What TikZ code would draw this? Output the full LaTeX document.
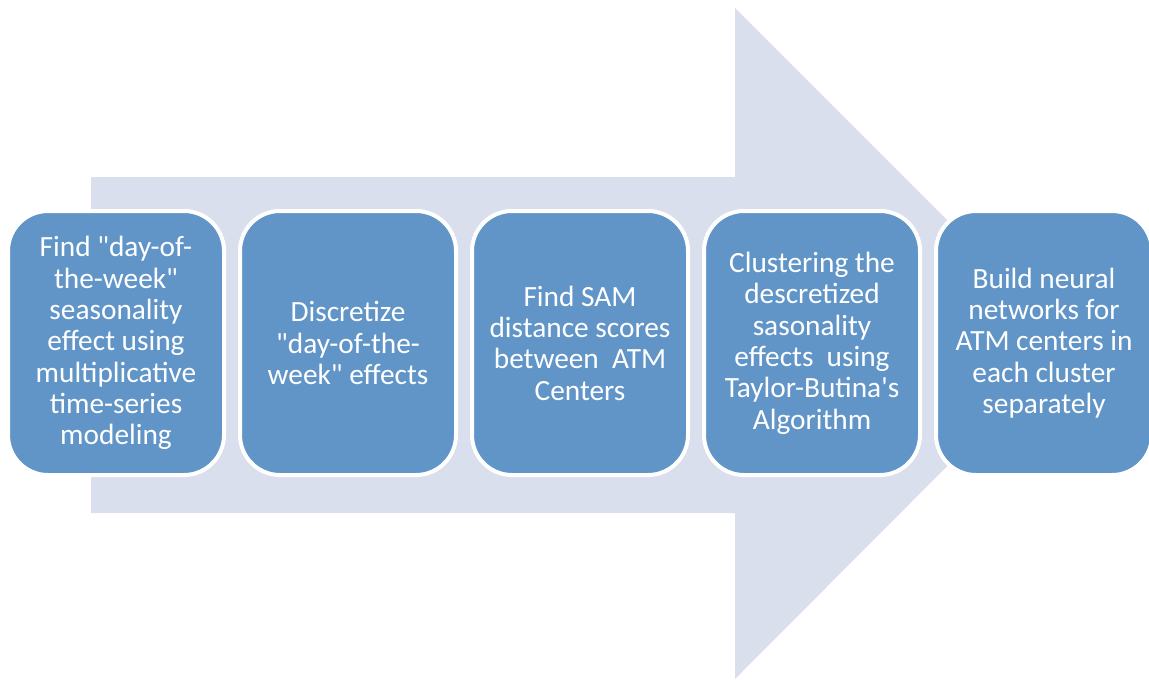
\documentclass[tikz,border=0pt]{standalone}
\usepackage{fontspec}
\setmainfont{Carlito}[Ligatures=TeXOff]
\definecolor{arrowfill}{HTML}{D9DFEC}
\definecolor{boxfill}{HTML}{6195C8}
\tikzset{
  stepbox/.style={draw=white, line width=3pt, fill=boxfill, rounded corners=30pt,
    minimum width=162pt, minimum height=198pt, inner sep=0pt, align=center,
    text=white, font=\fontsize{22}{23.5}\selectfont}
}
\begin{document}
\begin{tikzpicture}[x=0.75pt, y=-0.75pt]
			\useasboundingbox (0,0) rectangle (1149,679);
			\fill[arrowfill] (91,177) -- (735,177) -- (735,8) -- (1070,343)
				-- (735,679) -- (735,513) -- (91,513) -- cycle;
			\foreach \i\j in {0/{Find "day-of-\\the-week"\\seasonality\\effect using\\multiplicative\\time-series\\modeling},
				1/{Discretize\\"day-of-the-\\week" effects},
				2/{Find SAM\\distance scores\\between\ \ ATM\\Centers},
				3/{Clustering the\\descretized\\sasonality\\effects\ \ using\\Taylor-Butina's\\Algorithm},
				4/{Build neural\\networks for\\ATM centers in\\each cluster\\separately}}{
				\node[stepbox] (s\i) at (116+232*\i, 343) {\j};
			}
		\end{tikzpicture}
\end{document}
